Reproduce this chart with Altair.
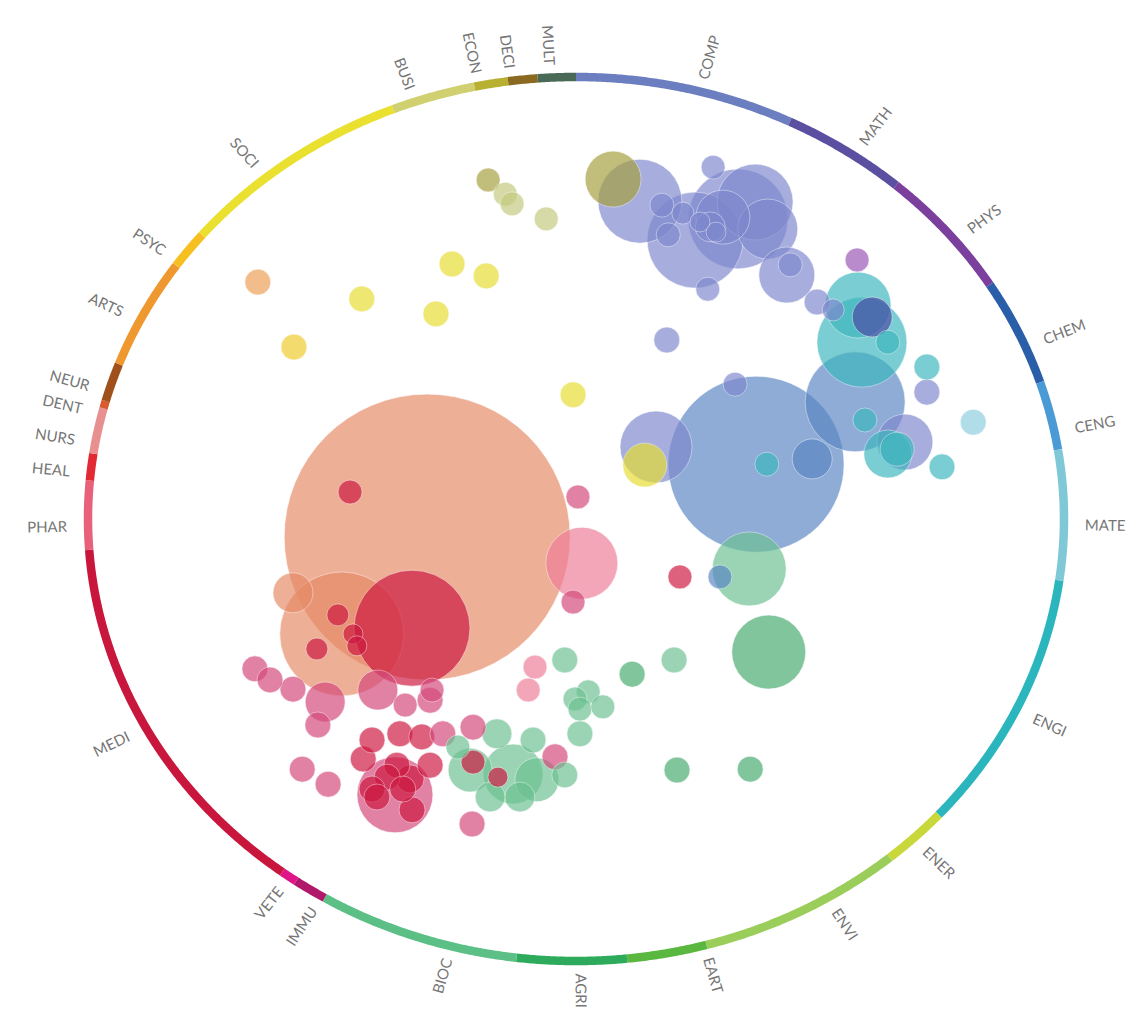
import altair as alt
import numpy as np
import pandas as pd

# ---------------- ring segments (compass degrees, clockwise from top) ----------------
seg_names = ["COMP", "MATH", "PHYS", "CHEM", "CENG", "MATE", "ENGI", "ENER", "ENVI", "EART",
             "AGRI", "BIOC", "IMMU", "VETE", "MEDI", "PHAR", "HEAL", "NURS", "DENT", "NEUR",
             "ARTS", "PSYC", "SOCI", "BUSI", "ECON", "DECI", "MULT"]
seg_start = [0, 26, 41, 58, 72, 81, 98, 132, 140, 164.5,
             174, 187, 211, 215, 217, 266, 275, 278.5, 284.5, 285.5,
             290.5, 305, 310, 338, 348, 352, 355.5]
seg_end = [26, 41, 58, 72, 81, 98, 132, 140, 164.5, 174,
           187, 211, 215, 217, 266, 275, 278.5, 284.5, 285.5, 290.5,
           305, 310, 338, 348, 352, 355.5, 360]
seg_colors = ["#6b7fc0", "#5a4fa0", "#7b3f9e", "#2a5ea8", "#4a9ad6", "#7ec8d8", "#2bb5bd", "#c8d83a",
              "#9acd5a", "#5ab840", "#2eaa5c", "#5cbf85", "#b0186a", "#e0158a", "#c8163c", "#e8607a",
              "#e22a34", "#e89090", "#d85a30", "#a0501a", "#f09830", "#f5c020", "#eae030", "#d0d070",
              "#b8b030", "#8a6a20", "#4a6a58"]

# ---------------- labels ----------------
label_names = ["COMP", "MATH", "PHYS", "CHEM", "CENG", "MATE", "ENGI", "ENER", "ENVI", "EART",
               "AGRI", "BIOC", "IMMU", "VETE", "MEDI", "PHAR", "HEAL", "NURS", "DENT", "NEUR",
               "ARTS", "PSYC", "SOCI", "BUSI", "ECON", "DECI", "MULT"]
label_theta = [14.5, 34.3, 50.6, 66.8, 78.5, 90.8, 116, 136.7, 149.4, 165,
               179.5, 194.6, 211, 215.5, 241.5, 269, 276, 280, 284, 287,
               297, 306, 321, 341, 348.7, 352.5, 357]

# ---------------- bubbles (ring radius = 100): group, x, y, value ----------------
bubbles = [
    ("DENT", -30.5, -4.1, 20449), ("DENT", -48.0, -26.0, 3844), ("DENT", -58.0, -16.7, 400),
    ("MEDI", -33.6, -24.7, 3364), ("PHAR", 1.2, -10.0, 1296), ("MEDI", -46.3, 6.1, 144),
    ("HEAL", 0.4, 5.0, 144), ("HEAL", -0.6, -18.8, 144), ("MEDI", -48.8, -21.7, 121),
    ("MEDI", -45.7, -26.0, 100), ("MEDI", -44.9, -28.7, 100), ("MEDI", -53.1, -29.4, 121),
    ("CHEM", 36.9, 12.4, 7744), ("COMP", 16.4, 16.3, 1296), ("SOCI", 14.1, 12.2, 484),
    ("COMP", 32.6, 30.5, 144), ("ENGI", 39.1, 12.4, 144), ("CHEM", 48.4, 13.6, 400),
    ("CHEM", 57.2, 26.5, 2500), ("ENGI", 57.8, 48.4, 1089), ("ENGI", 58.6, 40.0, 2025),
    ("MATH", 60.7, 45.7, 400), ("ENGI", 63.9, 40.0, 144), ("ENGI", 71.9, 34.4, 169),
    ("COMP", 71.9, 28.7, 169), ("MATE", 81.4, 21.9, 169), ("ENGI", 75.0, 11.8, 169),
    ("COMP", 67.4, 17.4, 784), ("ENGI", 63.9, 14.7, 576), ("ENGI", 65.8, 15.8, 289),
    ("ENGI", 59.2, 22.4, 144), ("COMP", 49.4, 49.1, 169), ("COMP", 52.7, 47.3, 121),
    ("COMP", 18.6, 40.5, 169), ("PHYS", 57.6, 58.6, 144),
    ("ECON", 7.6, 76.9, 784), ("COMP", 13.1, 71.9, 1764), ("COMP", 33.2, 67.9, 2500),
    ("COMP", 24.4, 63.1, 2304), ("COMP", 43.2, 55.2, 784), ("COMP", 28.1, 79.6, 144),
    ("COMP", 27.0, 52.0, 144), ("COMP", 17.6, 71.0, 144), ("COMP", 21.9, 69.2, 121),
    ("COMP", 18.9, 64.3, 144), ("COMP", 30.1, 68.3, 729), ("COMP", 27.5, 66.1, 225),
    ("COMP", 28.7, 64.9, 100), ("COMP", 25.4, 67.2, 100), ("COMP", 39.3, 65.6, 900),
    ("COMP", 43.9, 57.5, 144), ("COMP", 36.7, 71.7, 1444),
    ("ECON", -18.0, 76.7, 144), ("BUSI", -14.5, 73.5, 144), ("BUSI", -13.1, 71.3, 144),
    ("BUSI", -6.1, 67.9, 144), ("ARTS", -65.2, 53.6, 169), ("SOCI", -43.9, 49.8, 169),
    ("SOCI", -25.4, 57.7, 169), ("SOCI", -18.4, 55.0, 169), ("SOCI", -28.7, 46.4, 169),
    ("PSYC", -57.8, 38.9, 169), ("SOCI", -0.6, 28.1, 169),
    ("BIOC", 35.5, -11.3, 1369), ("CHEM", 29.5, -13.1, 144), ("MEDI", 21.3, -13.1, 144),
    ("AGRI", 39.5, -30.1, 1369), ("BIOC", 20.1, -31.9, 169), ("AGRI", 11.5, -35.1, 169),
    ("AGRI", 20.7, -56.8, 169), ("AGRI", 35.7, -56.6, 169), ("PHAR", -8.4, -33.5, 144),
    ("BIOC", -2.3, -31.9, 169), ("PHAR", -9.8, -38.7, 144), ("BIOC", -0.2, -40.7, 144),
    ("BIOC", 2.5, -39.1, 144), ("BIOC", 5.5, -42.5, 144), ("BIOC", 0.8, -43.0, 144),
    ("BIOC", 0.8, -48.6, 169),
    ("HEAL", -65.8, -33.9, 169), ("HEAL", -62.7, -36.4, 169), ("HEAL", -58.0, -38.5, 169),
    ("HEAL", -51.4, -41.4, 400), ("HEAL", -52.9, -46.6, 169), ("HEAL", -40.6, -38.7, 400),
    ("HEAL", -35.0, -42.1, 144), ("HEAL", -29.9, -41.0, 169), ("HEAL", -29.5, -38.7, 144),
    ("HEAL", -56.1, -56.6, 169), ("HEAL", -50.8, -60.0, 169), ("HEAL", -37.1, -62.4, 1444),
    ("MEDI", -41.8, -50.0, 169), ("MEDI", -36.1, -48.6, 169), ("MEDI", -31.6, -49.3, 169),
    ("HEAL", -27.3, -48.6, 169), ("MEDI", -43.6, -54.3, 169), ("MEDI", -41.8, -61.1, 169),
    ("MEDI", -38.7, -58.4, 169), ("MEDI", -35.5, -61.1, 169), ("MEDI", -33.6, -65.8, 169),
    ("MEDI", -29.9, -55.7, 169), ("MEDI", -36.7, -55.7, 169), ("MEDI", -40.8, -62.9, 169),
    ("MEDI", -34.0, -58.8, 196), ("HEAL", -21.3, -69.0, 169), ("HEAL", -21.1, -47.1, 169),
    ("BIOC", -21.7, -56.8, 484), ("BIOC", -12.9, -57.7, 900), ("BIOC", -17.6, -62.9, 225),
    ("BIOC", -8.0, -59.0, 484), ("BIOC", -16.2, -48.6, 225), ("BIOC", -8.8, -50.0, 169),
    ("BIOC", -2.3, -57.9, 169), ("HEAL", -4.3, -53.8, 169), ("MEDI", -21.1, -55.0, 144),
    ("MEDI", -16.0, -58.4, 100), ("BIOC", -24.2, -51.6, 144), ("BIOC", -11.5, -62.9, 225),
]
b_group = [b[0] for b in bubbles]
b_x = [b[1] for b in bubbles]
b_y = [b[2] for b in bubbles]
b_val = [b[3] for b in bubbles]

bubble_groups = ["COMP", "MATH", "PHYS", "CHEM", "MATE", "ENGI", "AGRI", "BIOC", "MEDI", "HEAL",
                 "PHAR", "DENT", "ARTS", "PSYC", "SOCI", "BUSI", "ECON"]
bubble_palette = ["#7e88cd", "#4b4aa5", "#9a55b5", "#5a86c4", "#8dcdde", "#3cb6bd", "#45aa6c", "#6cc192",
                  "#cd173f", "#d4487a", "#ee7d98", "#e68a66", "#ee9e55", "#efcb2a", "#e6dc30", "#c3c97d",
                  "#a59e3c"]

# ---------------- build tables ----------------
R = 100.0
SX, SY = 4.88, 4.42  # pixels per unit (the picture is slightly stretched sideways)
CX, CY = 576, 519     # page position of the centre

ring_rows = []
for name, a0, a1 in zip(seg_names, seg_start, seg_end):
    n = max(2, int((a1 - a0) * 4) + 1)
    for t in np.linspace(a0, a1, n):
        r = np.radians(t)
        ring_rows.append({"seg": name, "t": float(t), "x": R * np.sin(r), "y": R * np.cos(r)})
ring_df = pd.DataFrame(ring_rows)

lab_rows = []
LRX, LRY = 104.3, 102.8
for name, t in zip(label_names, label_theta):
    r = np.radians(t)
    dx = SX * np.sin(r)
    dy = -SY * np.cos(r)
    phi = np.degrees(np.arctan2(dy, dx))
    right = 0 < t < 180
    ang = phi if right else phi + 180
    lab_rows.append({"label": name, "x": LRX * np.sin(r), "y": LRY * np.cos(r),
                     "ang": float(ang % 360), "side": "R" if right else "L"})
lab_df = pd.DataFrame(lab_rows)

bub_df = pd.DataFrame({"group": b_group, "x": b_x, "y": b_y, "value": b_val})
bub_df = bub_df.sort_values("value", ascending=False).reset_index(drop=True)
bub_df["ord"] = range(len(bub_df))

W, H = 1128, 1000
xdom = [(8 - CX) / SX, (8 + W - CX) / SX]
ydom = [(CY - 8 - H) / SY, (CY - 8) / SY]
xs = alt.Scale(domain=xdom, nice=False, zero=False)
ys = alt.Scale(domain=ydom, nice=False, zero=False)

ring = alt.Chart(ring_df).mark_line(strokeWidth=8.5, strokeCap="butt").encode(
    x=alt.X("x:Q", scale=xs, axis=None),
    y=alt.Y("y:Q", scale=ys, axis=None),
    detail="seg:N",
    order=alt.Order("t:Q"),
    color=alt.Color("seg:N", scale=alt.Scale(domain=seg_names, range=seg_colors), legend=None),
)

bub = alt.Chart(bub_df).mark_circle(opacity=0.68, stroke="white", strokeWidth=1, strokeOpacity=0.6).encode(
    x=alt.X("x:Q", scale=xs, axis=None),
    y=alt.Y("y:Q", scale=ys, axis=None),
    size=alt.Size("value:Q", scale=alt.Scale(type="linear", domain=[0, 10000], range=[0, 40000]), legend=None),
    color=alt.Color("group:N", scale=alt.Scale(domain=bubble_groups, range=bubble_palette), legend=None),
    order=alt.Order("ord:Q"),
)

def labels(side, align):
    return alt.Chart(lab_df[lab_df["side"] == side]).mark_text(
        align=align, baseline="middle", font="Lato", fontSize=15, color="#767676"
    ).encode(
        x=alt.X("x:Q", scale=xs, axis=None),
        y=alt.Y("y:Q", scale=ys, axis=None),
        text="label:N",
        angle=alt.Angle("ang:Q", scale=None),
    )

chart = alt.layer(ring, bub, labels("R", "left"), labels("L", "right")).resolve_scale(
    color="independent"
).properties(
    width=W, height=H, autosize=alt.AutoSizeParams(type="none"), padding=0
).configure_view(stroke=None)

chart.save("out.html", embed_options={"renderer": "svg", "actions": False})
